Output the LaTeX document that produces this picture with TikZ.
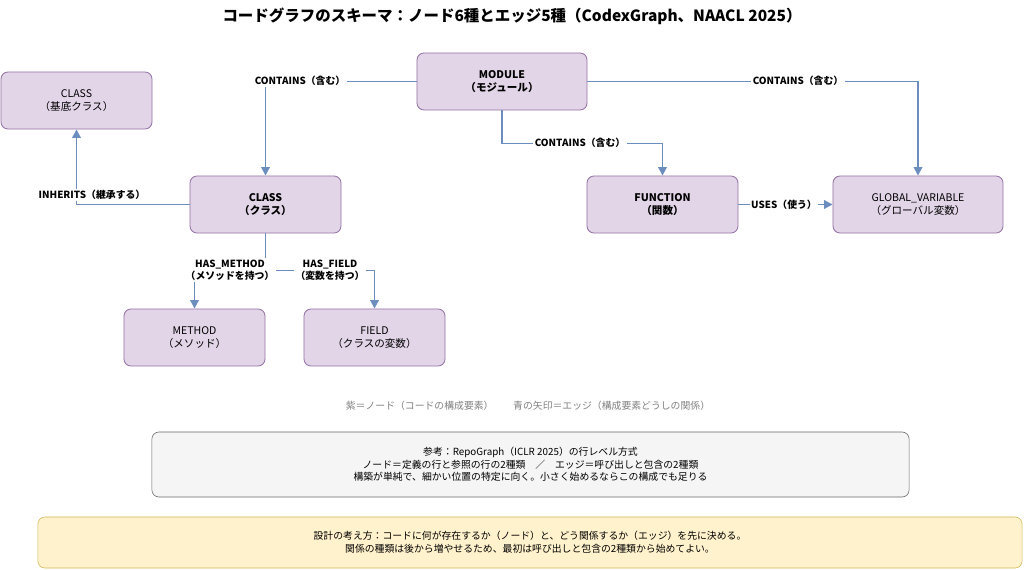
\documentclass[tikz,border=0pt]{standalone}
\usepackage{fontspec}
\setmainfont{Noto Sans CJK JP}
\usetikzlibrary{arrows.meta}
\definecolor{nodefill}{HTML}{E1D5E7}
\definecolor{nodeline}{HTML}{9673A6}
\definecolor{edgeline}{HTML}{6C8EBF}
\definecolor{notefill}{HTML}{FFF2CC}
\definecolor{noteline}{HTML}{D6B656}
\tikzset{
  ent/.style={rectangle, rounded corners=5pt, draw=nodeline, fill=nodefill, line width=0.6pt, minimum height=1.425cm, align=center, font=\fontsize{7.5}{9}\selectfont},
  rel/.style={draw=edgeline, line width=1.3pt, -{Triangle[width=6pt,length=6pt]}},
  lbl/.style={fill=white, inner sep=1pt, align=center, font=\bfseries\fontsize{7}{8.5}\selectfont}
}
\begin{document}
\begin{tikzpicture}[x=0.025cm, y=-0.025cm]
  \useasboundingbox (0,0) rectangle (1024,570);
  % Header
  \node (title) at (512,16) {\bfseries\fontsize{11}{13}\selectfont コードグラフのスキーマ：ノード6種とエッジ5種（CodexGraph、NAACL 2025）};
  % Nodes
  \node (mod) [ent, minimum width=4.25cm] at (502,81.5) {\bfseries MODULE\\\bfseries（モジュール）};
  \node (base) [ent, minimum width=3.775cm] at (76.5,100.5) {CLASS\\（基底クラス）};
  \node (cls) [ent, minimum width=3.775cm] at (265.5,204.5) {\bfseries CLASS\\\bfseries（クラス）};
  \node (fun) [ent, minimum width=3.775cm] at (662.5,204.5) {\bfseries FUNCTION\\\bfseries（関数）};
  \node (glob) [ent, minimum width=4.25cm] at (918,204.5) {GLOBAL\_VARIABLE\\（グローバル変数）};
  \node (meth) [ent, minimum width=3.525cm] at (194.5,337.5) {METHOD\\（メソッド）};
  \node (fld) [ent, minimum width=3.525cm] at (374.5,337.5) {FIELD\\（クラスの変数）};
  % Arrow
  \draw[rel] (mod.west) -| (cls.north);
  \draw[rel] (mod.east) -| (glob.north);
  \draw[rel] (mod.south) -- ++(0,33) -| (fun.north);
  \draw[rel] (cls.west) -| (base.south);
  \draw[rel] (cls.south) -- ++(0,37) -| (meth.north);
  \draw[rel] (cls.south) -- ++(0,37) -| (fld.north);
  \draw[rel] (fun) -- (glob);
  % Labels
  \node (l-mc) [lbl] at (300,81) {CONTAINS（含む）};
  \node (l-mg) [lbl] at (798,81) {CONTAINS（含む）};
  \node (l-mf) [lbl] at (580,143) {CONTAINS（含む）};
  \node (l-inh) [lbl] at (92,195) {INHERITS（継承する）};
  \node (l-hm) [lbl] at (230,270) {HAS\_METHOD\\（メソッドを持つ）};
  \node (l-hf) [lbl] at (330,270) {HAS\_FIELD\\（変数を持つ）};
  \node (l-use) [lbl] at (784,204.5) {USES（使う）};
  % Legend
  \node (legend) [text=black!50, font=\fontsize{7}{8.5}\selectfont] at (528,406) {紫＝ノード（コードの構成要素）\qquad 青の矢印＝エッジ（構成要素どうしの関係）};
  \node (ref) [rectangle, rounded corners=5pt, draw=black!60, fill=black!4, minimum width=18.925cm, minimum height=1.625cm, align=center, font=\fontsize{7}{9}\selectfont] at (530.5,464.5) {参考：RepoGraph（ICLR 2025）の行レベル方式\\ノード＝定義の行と参照の行の2種類\quad ／\quad エッジ＝呼び出しと包含の2種類\\構築が単純で、細かい位置の特定に向く。小さく始めるならこの構成でも足りる};
  \node (note) [rectangle, rounded corners=5pt, draw=noteline, fill=notefill, minimum width=24.6cm, minimum height=1.275cm, align=center, font=\fontsize{7}{9}\selectfont] at (530,542.5) {設計の考え方：コードに何が存在するか（ノード）と、どう関係するか（エッジ）を先に決める。\\関係の種類は後から増やせるため、最初は呼び出しと包含の2種類から始めてよい。};
\end{tikzpicture}
\end{document}
